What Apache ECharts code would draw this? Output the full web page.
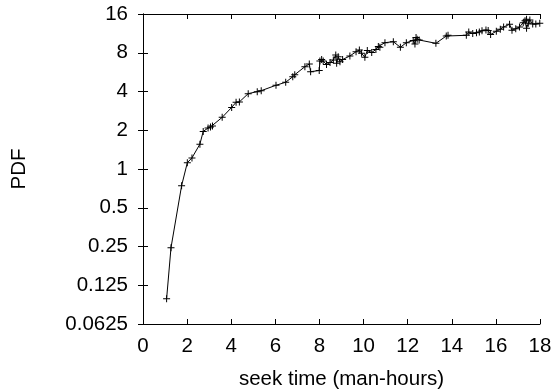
<!DOCTYPE html>
<html>
<head>
<meta charset="utf-8">
<script src="https://cdn.jsdelivr.net/npm/echarts@6/dist/echarts.min.js"></script>
<style>
html,body{margin:0;padding:0;background:#fff;}
#chart{width:557px;height:390px;}
</style>
</head>
<body>
<div id="chart"></div>
<script>
var seekTime = [1.07,1.27,1.75,2.01,2.22,2.58,2.73,2.95,3.06,3.15,3.59,4.02,4.22,4.37,4.77,5.18,5.36,6.03,6.47,6.79,6.88,7.34,7.54,7.60,7.99,8.02,8.10,8.17,8.32,8.48,8.63,8.74,8.78,8.85,8.93,9.05,9.38,9.66,9.81,9.91,10.06,10.17,10.37,10.56,10.67,10.74,10.97,11.35,11.67,11.94,12.25,12.33,12.38,12.43,12.52,13.28,13.75,13.83,14.66,14.77,14.95,15.12,15.25,15.37,15.55,15.65,15.76,16.02,16.20,16.35,16.62,16.73,16.90,17.07,17.24,17.32,17.39,17.39,17.47,17.54,17.67,17.81,17.99];
var pdfValues = [0.098,0.245,0.742,1.12,1.22,1.56,1.96,2.08,2.12,2.16,2.52,3.01,3.30,3.32,3.85,3.99,4.06,4.47,4.72,5.21,5.40,6.23,6.54,5.70,5.82,6.90,7.09,6.90,6.48,6.72,7.03,7.68,6.62,7.45,6.82,7.09,7.55,8.15,8.40,7.92,7.37,8.33,8.04,8.48,8.95,8.82,9.58,9.75,8.82,9.58,9.96,9.36,10.51,10.18,10.05,9.47,10.79,10.93,10.93,11.59,11.29,11.45,11.59,11.87,12.02,11.91,11.09,11.74,12.17,12.68,13.31,11.95,12.30,12.68,13.70,14.20,14.56,12.39,13.55,14.38,13.38,13.38,13.55];
var xTickLabels = ['0','2','4','6','8','10','12','14','16','18'];
var yTickLabels = ['0.0625','0.125','0.25','0.5','1','2','4','8','16'];

var data = seekTime.map(function(x,i){return [x,pdfValues[i]];});
var font = {fontFamily:'Liberation Sans, Arial, sans-serif', fontSize:20.5, color:'#000'};
var axLine = {show:true, lineStyle:{color:'#000', width:1}};
var axTick = {show:true, inside:true, length:5, lineStyle:{color:'#000', width:1}};

var chart = echarts.init(document.getElementById('chart'), null, {renderer:'canvas'});
chart.setOption({
  animation:false,
  backgroundColor:'#fff',
  grid:{left:143, right:17, top:14, bottom:66, containLabel:false, outerBoundsMode:'none'},
  xAxis:[{
    type:'value', min:0, max:18, interval:2, position:'bottom',
    axisLine:axLine, axisTick:axTick, splitLine:{show:false},
    axisLabel:Object.assign({margin:12, formatter:function(v){return xTickLabels[Math.round(v/2)];}}, font),
    name:'seek time (man-hours)', nameLocation:'middle', nameGap:45,
    nameTextStyle:font
  },{
    type:'value', min:0, max:18, interval:2, position:'top',
    axisLine:axLine, axisTick:axTick, splitLine:{show:false}, axisLabel:{show:false}
  }],
  yAxis:[{
    type:'log', logBase:2, min:0.0625, max:16, interval:1, position:'left',
    axisLine:axLine, axisTick:axTick, splitLine:{show:false}, minorTick:{show:false},
    axisLabel:Object.assign({margin:15, formatter:function(v){return yTickLabels[Math.round(Math.log2(v))+4];}}, font),
    name:'PDF', nameLocation:'middle', nameGap:113, nameRotate:90,
    nameTextStyle:font
  },{
    type:'log', logBase:2, min:0.0625, max:16, interval:1, position:'right',
    axisLine:axLine, axisTick:axTick, splitLine:{show:false}, axisLabel:{show:false}
  }],
  series:[{
    type:'line',
    data:data,
    xAxisIndex:0, yAxisIndex:0,
    symbol:'path://M0,3L7,3L7,4L0,4Z M3,0L4,0L4,7L3,7Z',
    symbolSize:7,
    showSymbol:true,
    itemStyle:{color:'#000'},
    lineStyle:{color:'#000', width:1},
    clip:false
  }]
});
</script>
</body>
</html>
